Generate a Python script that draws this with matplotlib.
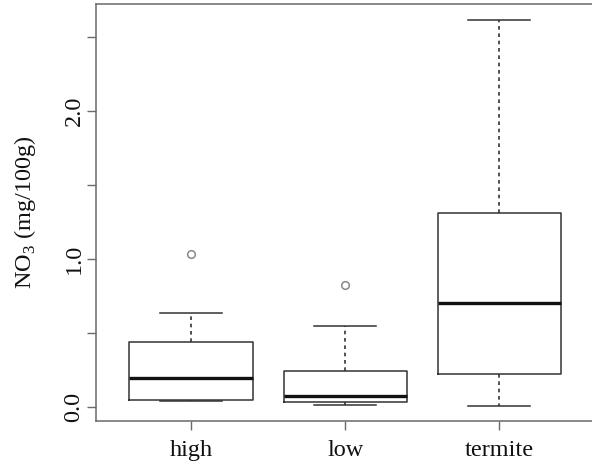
import matplotlib
matplotlib.use("Agg")
import matplotlib.pyplot as plt

# Summary statistics of nitrate per site type
groups = ["high", "low", "termite"]
medians = [0.196, 0.074, 0.703]
q1 = [0.045, 0.034, 0.223]
q3 = [0.435, 0.243, 1.311]
whisker_low = [0.040, 0.009, 0.007]
whisker_high = [0.635, 0.543, 2.613]
outliers = [[1.03], [0.822], []]
yticks = [0.0, 0.5, 1.0, 1.5, 2.0, 2.5]
ytick_labels = ["0.0", "", "1.0", "", "2.0", ""]

plt.rcParams["font.family"] = ["Liberation Serif", "DejaVu Serif"]
plt.rcParams["mathtext.fontset"] = "custom"
plt.rcParams["mathtext.rm"] = "Liberation Serif"

fig = plt.figure(figsize=(5.92, 4.67), dpi=100)
ax = fig.add_axes([95.5 / 592, 46 / 467, 499.3 / 592, 417 / 467])

stats = []
for i, g in enumerate(groups):
    stats.append(dict(label=g, med=medians[i], q1=q1[i], q3=q3[i],
                      whislo=whisker_low[i], whishi=whisker_high[i],
                      fliers=outliers[i]))

line_col = "#333333"
ax.bxp(stats, positions=[1, 2, 3], widths=0.8, capwidths=0.4,
       showfliers=True,
       boxprops=dict(color=line_col, linewidth=1.1),
       medianprops=dict(color="#111111", linewidth=2.4, solid_capstyle="butt"),
       whiskerprops=dict(color=line_col, linewidth=1.2, linestyle=(0, (2.2, 2.2))),
       capprops=dict(color=line_col, linewidth=1.1),
       flierprops=dict(marker="o", markerfacecolor="none",
                       markeredgecolor="#888888", markersize=5.5,
                       markeredgewidth=1.1))

ax.set_xlim(0.38, 3.62)
ax.set_ylim(-0.0966, 2.721)

ax.set_yticks(yticks)
ax.set_yticklabels(ytick_labels, rotation=90, va="center")
ax.set_xticks([1, 2, 3])
ax.set_xticklabels(groups)

for s in ax.spines.values():
    s.set_color("#6a6a6a")
    s.set_linewidth(1.1)

ax.tick_params(axis="both", direction="out", length=6.5, width=1.0,
               color="#6a6a6a", labelsize=17.5, labelcolor="#111111")
ax.tick_params(axis="y", pad=1.5)
ax.tick_params(axis="x", pad=7)

ax.set_ylabel(r"NO$_3$ (mg/100g)", fontsize=17.5, color="#111111", labelpad=18)

fig.savefig("out.png", dpi=100)
